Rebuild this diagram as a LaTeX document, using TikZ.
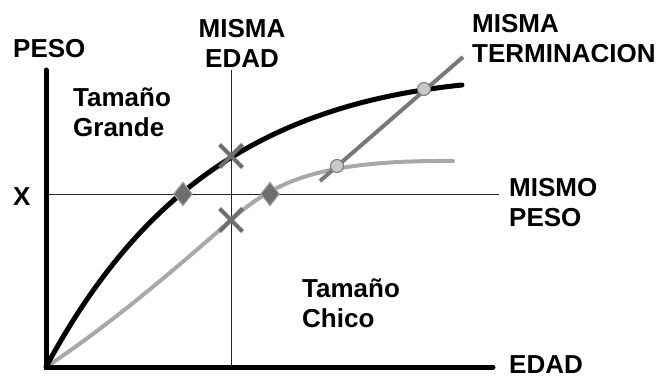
\documentclass[tikz,border=0pt]{standalone}
\usepackage{fontspec}
\setmainfont{Liberation Sans}[BoldFont={Liberation Sans Bold}]
\usetikzlibrary{shapes.geometric,shapes.misc}
\definecolor{lightgr}{HTML}{A8A8A8}
\definecolor{midgr}{HTML}{787878}
\definecolor{darkgr}{HTML}{6E6E6E}
\definecolor{pale}{HTML}{C8C8C8}
\begin{document}
\begin{tikzpicture}[x=1pt,y=-1pt]
        % Define styles for texts, curves and marks
        \tikzstyle{txt}=[font=\bfseries\fontsize{26}{30}\selectfont, inner sep=0pt, align=left, anchor=base west]
        \tikzstyle{axis}=[line width=5pt, line cap=round]
        \tikzstyle{guide}=[line width=1pt, black!85]
        \tikzstyle{gem}=[diamond, draw=lightgr, fill=darkgr, line width=1pt, minimum width=19pt, minimum height=24pt, inner sep=0pt]
        \tikzstyle{cross}=[cross out, draw=darkgr, line width=4pt, minimum size=19pt, inner sep=0pt]
        \tikzstyle{dot}=[circle, draw=midgr, fill=pale, line width=1pt, minimum size=13pt, inner sep=0pt]
        \useasboundingbox (0,0) rectangle (664,377);

        % Define axes and guide lines
        \coordinate (o) at (46,367);
        \coordinate (ytop) at (46,70);
        \coordinate (xend) at (493,367);
        \coordinate (etop) at (231,70);
        \coordinate (ebot) at (231,367);
        \coordinate (pleft) at (46,194);
        \coordinate (pright) at (499,194);
        \coordinate (tlow) at (320,181);
        \coordinate (thigh) at (463,57);

        \draw[guide] (etop) -- (ebot);
        \draw[guide] (pleft) -- (pright);

        % Draw growth curves
        \draw[line width=4pt, lightgr, line cap=round] (o) .. controls (110,325) and (180,265) .. (231,220)
                .. controls (275,181) and (320,160) .. (453,161);
        \draw[line width=5pt, line cap=round] (o) .. controls (142,189) and (267,105) .. (462,85);
        \draw[axis] (ytop) -- (o) -- (xend);
        \draw[line width=4pt, midgr] (tlow) -- (thigh);

        % Define marks
        \node[gem] (g1) at (183,194) {};
        \node[gem] (g2) at (270,194) {};
        \node[cross] (c1) at (231,156) {};
        \node[cross] (c2) at (231,220) {};
        \node[dot] (d1) at (337,166) {};
        \node[dot] (d2) at (424,89) {};

        % Define labels
        \node[txt] (peso) at (13,58) {PESO};
        \node[txt, align=center, anchor=base] (edad1) at (242,68) {MISMA\\EDAD};
        \node[txt] (term) at (472,63) {MISMA\\TERMINACION};
        \node[txt] (big) at (73,137) {Tamaño\\Grande};
        \node[txt] (xval) at (13,205) {X};
        \node[txt] (mpeso) at (509,226) {MISMO\\PESO};
        \node[txt] (small) at (302,327) {Tamaño\\Chico};
        \node[txt] (edad2) at (509,373) {EDAD};
\end{tikzpicture}
\end{document}
